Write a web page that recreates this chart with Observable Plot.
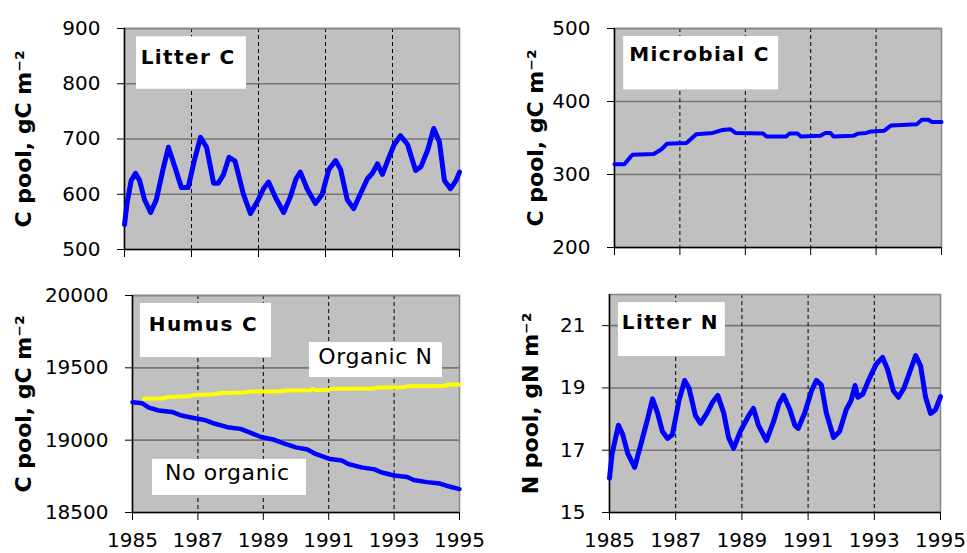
<!DOCTYPE html>
<html><head><meta charset="utf-8">
<script src="https://cdn.jsdelivr.net/npm/d3@7"></script>
<script src="https://cdn.jsdelivr.net/npm/@observablehq/plot@0.6"></script>
<style>
body{margin:0;background:#fff;}
#wrap{position:relative;width:967px;height:553px;overflow:hidden;background:#fff;font-family:"DejaVu Sans";}
#wrap svg{position:absolute;overflow:visible;}
</style></head><body><div id="wrap"></div>
<script>
// ---- tick labels / categories ----
const years = [1985, 1987, 1989, 1991, 1993, 1995];
const ticksLitterC = [500, 600, 700, 800, 900];
const ticksMicrobialC = [200, 300, 400, 500];
const ticksHumusC = [18500, 19000, 19500, 20000];
const ticksLitterN = [15, 17, 19, 21];

// ---- series values [year, value] ----
const litterC = [[1985.0,545],[1985.08,585],[1985.2,625],[1985.33,638],[1985.45,625],[1985.6,590],[1985.78,567],[1985.95,590],[1986.15,645],[1986.31,685],[1986.5,650],[1986.7,612],[1986.9,612],[1987.08,660],[1987.27,703],[1987.45,685],[1987.66,620],[1987.8,620],[1987.95,635],[1988.12,667],[1988.3,660],[1988.55,600],[1988.76,565],[1988.95,585],[1989.15,610],[1989.3,622],[1989.5,595],[1989.75,567],[1989.95,595],[1990.12,628],[1990.25,640],[1990.45,610],[1990.7,583],[1990.9,600],[1991.1,645],[1991.3,661],[1991.45,645],[1991.65,590],[1991.84,574],[1992.0,595],[1992.25,628],[1992.4,638],[1992.55,655],[1992.7,636],[1992.85,660],[1993.05,690],[1993.24,706],[1993.45,690],[1993.69,643],[1993.85,650],[1994.05,680],[1994.23,719],[1994.4,695],[1994.55,625],[1994.73,610],[1994.9,625],[1995.0,640]];

const microbialC = [[1985.0,314],[1985.3,314],[1985.45,322],[1985.55,327],[1986.2,328],[1986.45,335],[1986.6,342],[1987.2,343],[1987.5,355],[1988.0,357],[1988.3,361],[1988.55,362],[1988.7,357],[1989.55,356],[1989.65,352],[1990.25,352],[1990.35,356],[1990.6,356],[1990.7,352],[1991.3,353],[1991.45,357],[1991.6,357],[1991.7,352],[1992.3,353],[1992.45,356],[1992.7,357],[1992.85,359],[1993.25,360],[1993.45,367],[1994.25,369],[1994.4,375],[1994.6,375],[1994.7,372],[1995.0,372]];

const humusNoOrganic = [[1985.0,19262],[1985.3,19255],[1985.5,19225],[1985.8,19205],[1986.2,19195],[1986.5,19170],[1986.9,19152],[1987.2,19140],[1987.5,19115],[1987.9,19090],[1988.3,19078],[1988.6,19052],[1988.95,19020],[1989.3,19005],[1989.6,18980],[1990.0,18950],[1990.35,18935],[1990.6,18905],[1991.0,18872],[1991.4,18860],[1991.6,18835],[1992.0,18812],[1992.4,18798],[1992.6,18778],[1993.0,18756],[1993.4,18745],[1993.6,18725],[1994.0,18710],[1994.4,18700],[1994.6,18685],[1995.0,18662]];

const humusOrganicN = [[1985.35,19286],[1985.9,19288],[1986.1,19298],[1986.7,19303],[1986.9,19312],[1987.5,19318],[1987.7,19326],[1988.4,19330],[1988.6,19336],[1989.5,19338],[1989.75,19343],[1990.45,19345],[1990.5,19354],[1990.6,19347],[1991.0,19347],[1991.1,19356],[1992.4,19358],[1992.5,19364],[1993.3,19366],[1993.4,19372],[1994.5,19374],[1994.65,19383],[1995.0,19385]];

const litterN = [[1985.0,16.1],[1985.08,16.9],[1985.27,17.8],[1985.4,17.5],[1985.55,16.9],[1985.76,16.45],[1985.95,17.2],[1986.15,18.0],[1986.3,18.65],[1986.45,18.2],[1986.6,17.6],[1986.75,17.38],[1986.9,17.5],[1987.1,18.6],[1987.27,19.24],[1987.4,19.0],[1987.6,18.1],[1987.75,17.86],[1987.95,18.2],[1988.12,18.55],[1988.27,18.76],[1988.45,18.2],[1988.6,17.4],[1988.75,17.06],[1988.95,17.6],[1989.2,18.1],[1989.35,18.34],[1989.5,17.8],[1989.74,17.31],[1989.95,17.9],[1990.12,18.5],[1990.26,18.76],[1990.45,18.3],[1990.6,17.8],[1990.7,17.7],[1990.9,18.2],[1991.1,18.9],[1991.25,19.24],[1991.4,19.1],[1991.55,18.2],[1991.77,17.41],[1991.95,17.6],[1992.15,18.3],[1992.3,18.6],[1992.42,19.08],[1992.5,18.7],[1992.65,18.8],[1992.85,19.3],[1993.05,19.75],[1993.25,19.98],[1993.4,19.6],[1993.58,18.9],[1993.73,18.7],[1993.9,19.0],[1994.1,19.6],[1994.25,20.04],[1994.4,19.7],[1994.55,18.7],[1994.7,18.18],[1994.85,18.3],[1995.0,18.72]];

// ---- annotation boxes (data units) ----
const notesLitterC = [{label:"Litter C", x1:1985.36, x2:1988.64, y1:885, y2:790, tx:1986.9, ty:848, bold:true}];
const notesMicrobialC = [{label:"Microbial C", x1:1985.28, x2:1990.02, y1:489, y2:416, tx:1987.6, ty:464, bold:true}];
const notesHumusC = [
  {label:"Humus C", x1:1985.24, x2:1989.25, y1:19945, y2:19571, tx:1987.17, ty:19800, bold:true},
  {label:"Organic N", x1:1990.41, x2:1994.48, y1:19675, y2:19433, tx:1992.43, ty:19572, bold:false},
  {label:"No organic", x1:1985.61, x2:1990.32, y1:18867, y2:18618, tx:1987.9, ty:18770, bold:false}
];
const notesLitterN = [{label:"Litter N", x1:1985.27, x2:1988.5, y1:21.74, y2:20.01, tx:1986.84, ty:21.11, bold:true}];

const toObj = (arr) => arr.map(([year, value]) => ({year, value}));

function panel(cfg) {
  const [ml, mt, mr, mb] = cfg.margins;
  const marks = [
    Plot.frame({fill: "#c0c0c0"}),
    Plot.gridY(cfg.yTicks.slice(1), {stroke: "#767676", strokeOpacity: 1, strokeWidth: 1.6}),
    Plot.gridX(years.slice(1, -1), {stroke: "#000", strokeOpacity: 1, strokeWidth: 1, strokeDasharray: "4,3"}),
    Plot.frame({stroke: "#8a8a8a", strokeWidth: 1.6}),
    Plot.rect(cfg.notes, {x1: "x1", x2: "x2", y1: "y1", y2: "y2", fill: "#fff"}),
    Plot.text(cfg.notes.filter(d => d.bold), {x: "tx", y: "ty", text: "label", fontSize: 20, fontWeight: "bold", fill: "#000"}),
    Plot.text(cfg.notes.filter(d => !d.bold), {x: "tx", y: "ty", text: "label", fontSize: 22, fill: "#000"}),
    Plot.ruleX([1985], {stroke: "#000", strokeWidth: 1.5}),
    Plot.ruleY([cfg.yDomain[0]], {stroke: "#000", strokeWidth: 1.5}),
    Plot.axisY(cfg.yTicks, {tickSize: 7, tickPadding: 17, fontSize: 20, label: null, fill: "#000", tickFormat: d3.format("d")}),
    Plot.axisX(years, {tickSize: 8, tickPadding: 12, fontSize: 20, label: null, fill: "#000",
      tickFormat: cfg.showX ? d3.format("d") : () => ""}),
    ...cfg.series.map(s => Plot.line(toObj(s.data), {x: "year", y: "value", stroke: s.color, strokeWidth: s.width})),
    Plot.text([cfg.title], {frameAnchor: "left", textAnchor: "middle", lineAnchor: "middle", rotate: -90, dx: cfg.titleDx, fontSize: 22, fontWeight: "bold", fill: "#000"})
  ];
  const svg = Plot.plot({
    width: cfg.width, height: cfg.height,
    marginLeft: ml, marginTop: mt, marginRight: mr, marginBottom: mb,
    x: {domain: [1985, 1995]},
    y: {domain: cfg.yDomain},
    style: {background: "transparent", fontFamily: "DejaVu Sans", overflow: "visible"},
    marks
  });
  d3.select(svg).selectAll("text").filter(function() {
    return ["Litter C", "Microbial C", "Humus C", "Litter N"].includes(this.textContent);
  }).attr("letter-spacing", 1.4);
  d3.select(svg).selectAll("text").filter(function() {
    return ["Organic N", "No organic"].includes(this.textContent);
  }).attr("letter-spacing", 0.6);
  svg.style.left = cfg.left + "px";
  svg.style.top = cfg.top + "px";
  document.getElementById("wrap").appendChild(svg);
}

const titleC = "C pool, gC m\u207B\u00B2";
const titleN = "N pool, gN m\u207B\u00B2";

panel({left: 0, top: 0, width: 483, height: 276, margins: [124, 28, 24, 27],
  yDomain: [500, 900], yTicks: ticksLitterC, showX: false, title: titleC, titleDx: -101,
  notes: notesLitterC, series: [{data: litterC, color: "#0000ff", width: 5}]});
panel({left: 483, top: 0, width: 484, height: 276, margins: [131, 28, 26, 29],
  yDomain: [200, 500], yTicks: ticksMicrobialC, showX: false, title: titleC, titleDx: -79,
  notes: notesMicrobialC, series: [{data: microbialC, color: "#0000ff", width: 4}]});
panel({left: 0, top: 276, width: 500, height: 277, margins: [132, 19, 41, 41],
  yDomain: [18500, 20000], yTicks: ticksHumusC, showX: true, title: titleC, titleDx: -109,
  notes: notesHumusC, series: [{data: humusOrganicN, color: "#ffff00", width: 4}, {data: humusNoOrganic, color: "#0000ff", width: 4.5}]});
panel({left: 483, top: 276, width: 484, height: 277, margins: [126, 18, 27, 41],
  yDomain: [15, 22], yTicks: ticksLitterN, showX: true, title: titleN, titleDx: -79,
  notes: notesLitterN, series: [{data: litterN, color: "#0000ff", width: 5}]});
</script>
</body></html>
